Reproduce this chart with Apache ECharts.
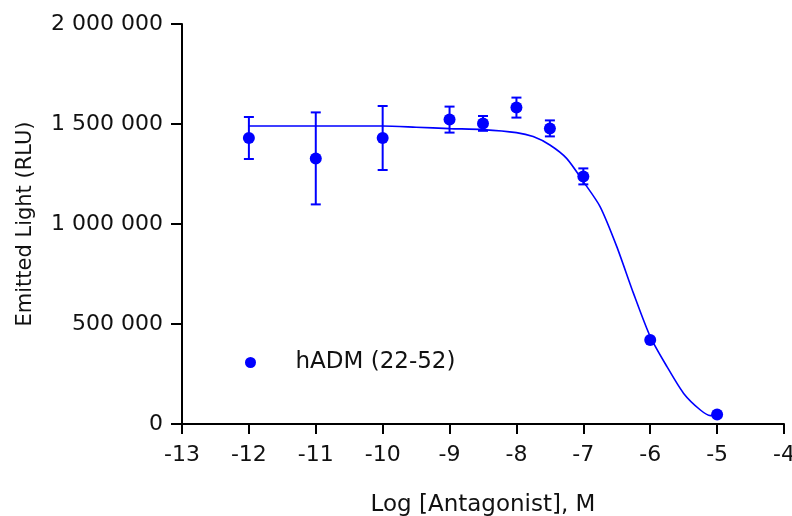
<!DOCTYPE html>
<html>
<head>
<meta charset="utf-8">
<script src="https://cdn.jsdelivr.net/npm/echarts@6/dist/echarts.min.js"></script>
<style>
html,body{margin:0;padding:0;background:#fff;}
#chart{width:792px;height:516px;}
</style>
</head>
<body>
<div id="chart"></div>
<script>
// measured points, log M
var logConc=[-12,-11,-10,-9,-8.5,-8,-7.5,-7,-6,-5]
var meanRLU=[1430000,1328000,1430000,1522000,1503000,1582000,1478000,1238000,420000,48000]
var errRLU=[105000,230000,160000,65000,37000,50000,40000,40000,0,0]
// fitted curve
var fitX=[-12,-11,-10,-9.5,-9,-8.5,-8,-7.75,-7.5,-7.25,-7,-6.75,-6.5,-6.25,-6,-5.75,-5.5,-5.25,-5.1,-5]
var fitY=[1490000,1490000,1490000,1484000,1477000,1472000,1457000,1437000,1395000,1328000,1212000,1087000,887000,653000,437000,287000,153000,70000,42000,45000]
var yTicks=[0,500000,1000000,1500000,2000000]
var seriesName='hADM (22-52)'

var pts=[],bars=[],fit=[]
for(var i=0;i<logConc.length;i++){
	pts.push([logConc[i],meanRLU[i]])
	if(errRLU[i]>0) bars.push([logConc[i],meanRLU[i]-errRLU[i],meanRLU[i]+errRLU[i]])
}
for(var j=0;j<fitX.length;j++){
	fit.push([fitX[j],fitY[j]])
}

var blue='#0000ff'
var txt='#111'
var font='DejaVu Sans'

var mychart=echarts.init(document.getElementById('chart'),null,{renderer:'canvas'});
var option={
	animation:false,
	backgroundColor:'#fff',
	grid:{left:182,right:8,top:24,bottom:92,outerBoundsMode:'none'},
	legend:{
		left:240,
		top:346,
		itemWidth:80,
		itemHeight:11,
		textStyle:{color:txt,fontFamily:font,fontSize:23},
		data:[{name:seriesName,icon:'circle'}]
	},
	xAxis:{
		type:'value',
		min:-13,max:-4,interval:1,
		name:'Log [Antagonist], M',
		nameLocation:'middle',
		nameGap:70,
		nameTextStyle:{color:txt,fontFamily:font,fontSize:23},
		splitLine:{show:false},
		axisLine:{onZero:false,lineStyle:{color:'#000',width:2}},
		axisTick:{length:10,lineStyle:{color:'#000',width:2}},
		axisLabel:{color:txt,fontFamily:font,fontSize:22,margin:20}
	},
	yAxis:{
		type:'value',
		min:0,max:2000000,interval:500000,
		name:'Emitted Light (RLU)',
		nameLocation:'middle',
		nameGap:146,
		nameTextStyle:{color:txt,fontFamily:font,fontSize:21},
		splitLine:{show:false},
		axisLine:{show:true,lineStyle:{color:'#000',width:2}},
		axisTick:{show:true,length:11,lineStyle:{color:'#000',width:2}},
		axisLabel:{
			color:txt,fontFamily:font,fontSize:22,margin:19,
			formatter:function(v){
				if(yTicks.indexOf(v)<0) return ''
				return String(v).replace(/\B(?=(\d{3})+(?!\d))/g,' ')
			}
		}
	},
	series:[{
		name:'fit',
		type:'line',
		data:fit,
		symbol:'none',
		smooth:0.25,
		lineStyle:{color:blue,width:1.6},
		z:2
	},{
		name:'err',
		type:'custom',
		data:bars,
		renderItem:function(params,api){
			var lo=api.coord([api.value(0),api.value(1)])
			var hi=api.coord([api.value(0),api.value(2)])
			var h=5
			var st={stroke:blue,lineWidth:2}
			return {type:'group',children:[
				{type:'line',shape:{x1:lo[0],y1:lo[1],x2:hi[0],y2:hi[1]},style:st},
				{type:'line',shape:{x1:lo[0]-h,y1:lo[1],x2:lo[0]+h,y2:lo[1]},style:st},
				{type:'line',shape:{x1:hi[0]-h,y1:hi[1],x2:hi[0]+h,y2:hi[1]},style:st}
			]}
		},
		z:3
	},{
		name:seriesName,
		type:'scatter',
		data:pts,
		symbol:'circle',
		symbolSize:12,
		itemStyle:{color:blue,opacity:1},
		z:4
	}]
};
mychart.setOption(option);
</script>
</body>
</html>
